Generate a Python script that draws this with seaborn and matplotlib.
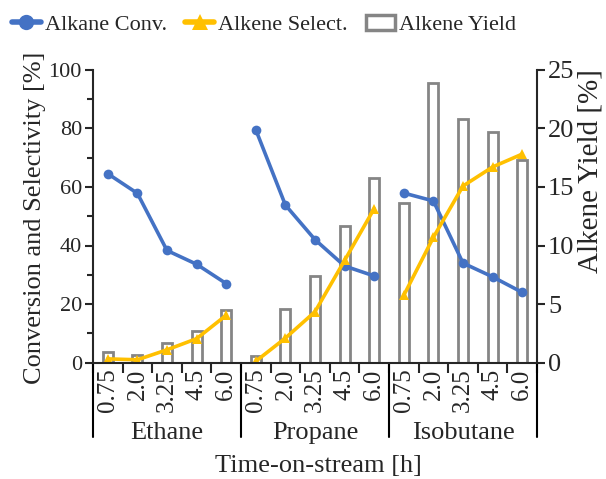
import matplotlib
matplotlib.use("Agg")
import matplotlib.pyplot as plt
import matplotlib.transforms as mtransforms
from matplotlib.lines import Line2D
from matplotlib.patches import Patch
import seaborn as sns
import pandas as pd
import numpy as np

groups = ["Ethane", "Propane", "Isobutane"]
times = ["0.75", "2.0", "3.25", "4.5", "6.0"]

conv_ethane = [64.5, 57.8, 38.3, 33.6, 27.0]
conv_propane = [79.5, 53.8, 42.0, 33.0, 29.6]
conv_isobutane = [57.9, 55.2, 34.0, 29.3, 24.0]

sel_ethane = [1.3, 1.0, 4.4, 8.2, 16.2]
sel_propane = [0.5, 8.4, 17.4, 34.9, 52.6]
sel_isobutane = [23.0, 42.8, 60.3, 66.8, 71.2]

yield_ethane = [0.94, 0.63, 1.71, 2.74, 4.5]
yield_propane = [0.6, 4.6, 7.4, 11.7, 15.8]
yield_isobutane = [13.6, 23.9, 20.8, 19.7, 17.3]

conv = conv_ethane + conv_propane + conv_isobutane
sel = sel_ethane + sel_propane + sel_isobutane
yld = yield_ethane + yield_propane + yield_isobutane
grp = [g for g in groups for _ in times]
df = pd.DataFrame({
    "pos": list(range(len(conv))),
    "group": grp,
    "time": times * len(groups),
    "conv": conv,
    "sel": sel,
    "yield": yld,
})

sns.set_style("ticks")
plt.rcParams["font.family"] = ["Liberation Serif", "DejaVu Serif"]
plt.rcParams["axes.linewidth"] = 1.5

BLUE = "#4472C4"
YELLOW = "#FFC000"
GRAY = "#858585"

fig = plt.figure(figsize=(6.06, 4.79), dpi=100)
ax = fig.add_axes([93 / 606, (479 - 362.7) / 479, 444 / 606, 293 / 479])
ax2 = ax.twinx()

sns.barplot(data=df, x="pos", y="yield", ax=ax2, native_scale=True, width=0.34,
            color="white", edgecolor=GRAY, linewidth=2, saturation=1, errorbar=None)

sns.lineplot(data=df, x="pos", y="conv", units="group", estimator=None, ax=ax,
             color=BLUE, lw=2.6, marker="o", markersize=7, markeredgewidth=0,
             legend=False, sort=False)
sns.lineplot(data=df, x="pos", y="sel", units="group", estimator=None, ax=ax,
             color=YELLOW, lw=2.6, marker="^", markersize=7, markeredgewidth=0,
             legend=False, sort=False)

ax.set_zorder(ax2.get_zorder() + 1)
ax.patch.set_visible(False)

ax.set_xlim(-0.5, len(conv) - 0.5)
ax.set_ylim(0, 100)
ax2.set_ylim(0, 25)

ax.set_xticks(np.arange(len(conv)))
ax.set_xticklabels(df["time"], rotation=90, fontsize=18)
ax.set_xticks(np.arange(-0.5, len(conv), 1.0), minor=True)
ax.tick_params(axis="x", which="major", length=0, pad=4)
ax.tick_params(axis="x", which="minor", length=7, width=1.5, direction="out")

ax.set_yticks(np.arange(0, 101, 20))
ax.set_yticks(np.arange(10, 100, 20), minor=True)
ax.tick_params(axis="y", which="major", length=6, width=1.5, labelsize=16, pad=2)
ax.tick_params(axis="y", which="minor", length=4, width=1.5)
ax2.set_yticks(np.arange(0, 26, 5))
ax2.tick_params(axis="y", which="major", length=6, width=1.5, labelsize=19, pad=2)

ax.set_xlabel("")
ax.set_ylabel("")
ax2.set_ylabel("")
ax2.set_xlabel("")

for s in ["top", "right"]:
    ax.spines[s].set_visible(False)
for s in ["top", "left", "bottom"]:
    ax2.spines[s].set_visible(False)
ax2.spines["right"].set_linewidth(1.5)

trans = mtransforms.blended_transform_factory(ax.transData, ax.transAxes)
for x in [-0.5, 4.5, 9.5, 14.5]:
    ax.add_line(Line2D([x, x], [0, -0.255], transform=trans, clip_on=False,
                       color="black", lw=1.5))
for i, g in enumerate(groups):
    ax.text(i * 5 + 2, -0.24, g, transform=trans, ha="center", va="center", fontsize=19)

fig.text(318 / 606, 1 - 466 / 479, "Time-on-stream [h]", ha="center", va="center", fontsize=19)
fig.text(35 / 606, 1 - 218 / 479, "Conversion and Selectivity [%]", rotation=90,
         ha="center", va="center", fontsize=19)
fig.text(590 / 606, 1 - 171 / 479, "Alkene Yield [%]", rotation=90,
         ha="center", va="center", fontsize=21)

handles = [
    Line2D([0], [0], color=BLUE, lw=4, marker="o", markersize=11, markeredgewidth=0),
    Line2D([0], [0], color=YELLOW, lw=4, marker="^", markersize=12, markeredgewidth=0),
    Patch(facecolor="white", edgecolor=GRAY, linewidth=2.5),
]
fig.legend(handles, ["Alkane Conv.", "Alkene Select.", "Alkene Yield"],
           loc="center", bbox_to_anchor=(264 / 606, 1 - 25 / 479), ncol=3,
           frameon=False, fontsize=16, handlelength=1.3, handletextpad=0.2,
           columnspacing=0.8, borderaxespad=0)

fig.savefig("out.png", dpi=100)
